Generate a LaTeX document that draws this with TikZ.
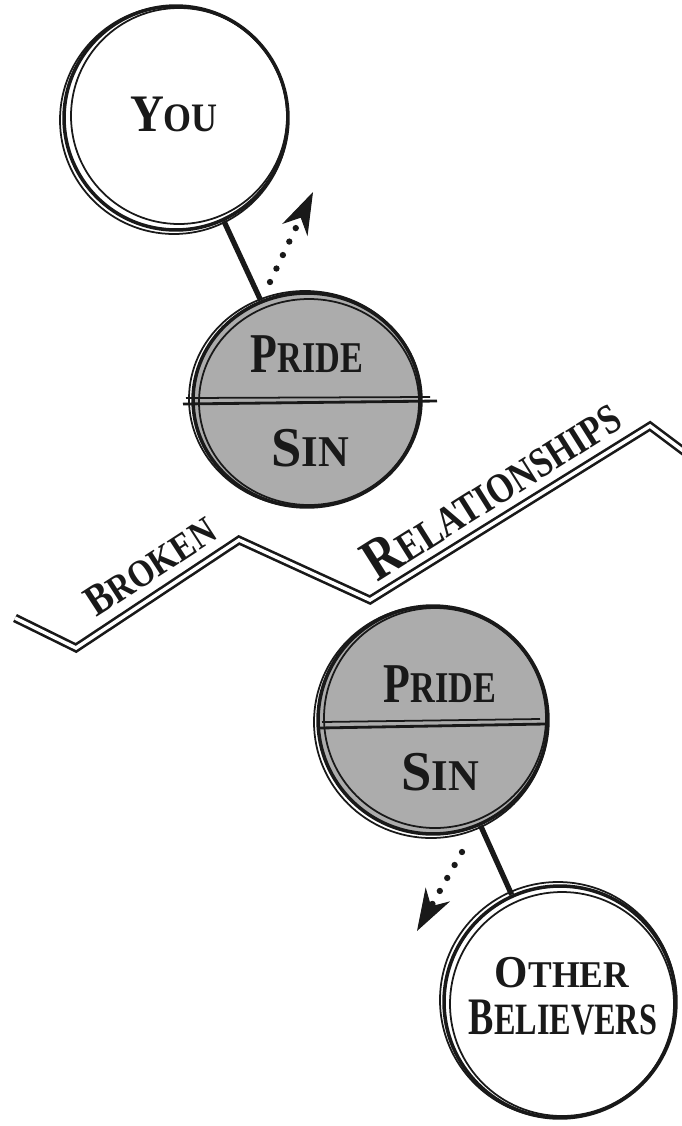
\documentclass[tikz,border=0pt]{standalone}
\usepackage{graphicx}
\usepackage{fontspec}
\setmainfont{Liberation Serif}
\usetikzlibrary{shapes.geometric,arrows.meta}
\definecolor{pgray}{RGB}{172,172,172}
\definecolor{ink}{RGB}{25,25,25}
\newcommand{\HW}[5]{\scalebox{#5}[1]{\bfseries\fontsize{#3}{#3}\selectfont #1\fontsize{#4}{#4}\selectfont #2}}
\tikzset{
  ring/.style={draw=ink, line width=2pt, inner sep=0pt},
  sk/.style={draw=ink, line width=1pt},
  lbl/.style={text=ink, inner sep=0pt},
  conn/.style={draw=ink, line width=3pt},
  dotarrow/.style={draw=ink, line width=3.6pt, line cap=round, dash pattern=on 0pt off 8.5pt,
    -{Stealth[length=24pt,width=16pt,line width=0.6pt]}},
  divider/.style={draw=ink, line width=1.6pt},
  zig/.style={draw=ink, line width=1.5pt, double=white, double distance=2pt, line join=miter},
}
\begin{document}
\begin{tikzpicture}[x=0.02cm, y=-0.02cm]
\useasboundingbox (0,0) rectangle (682,1126);
% nodes
\node[ring, circle, minimum size=4.48cm] (you) at (176,118) {};
\node[ring, ellipse, fill=pgray, minimum width=4.56cm, minimum height=4.28cm] (pride1) at (307,400) {};
\node[ring, ellipse, fill=pgray, minimum width=4.6cm, minimum height=4.56cm] (pride2) at (433,720) {};
\node[ring, circle, minimum size=4.64cm] (ob) at (560,1002) {};
% sketch strokes
\draw[sk] ([shift={(3,-2)}]you.center) circle[radius=108];
\draw[sk] ([shift={(-2,2)}]you.center) circle[radius=114];
\draw[sk] ([shift={(2,2)}]pride1.center) ellipse[x radius=110, y radius=103];
\draw[sk] ([shift={(-2,-1)}]pride1.center) ellipse[x radius=116, y radius=108];
\draw[sk] ([shift={(2,-2)}]pride2.center) ellipse[x radius=111, y radius=110];
\draw[sk] ([shift={(-2,2)}]pride2.center) ellipse[x radius=117, y radius=116];
\draw[sk] ([shift={(2,2)}]ob.center) circle[radius=112];
\draw[sk] ([shift={(-2,-2)}]ob.center) circle[radius=118];
% dividers
\coordinate (d1a) at (183,404); \coordinate (d1b) at (437,401);
\coordinate (d1c) at (186,398); \coordinate (d1d) at (430,397);
\draw[divider] (d1a) -- (d1b);
\draw[sk] (d1c) -- (d1d);
\coordinate (d2a) at (320,728); \coordinate (d2b) at (545,724);
\coordinate (d2c) at (322,722); \coordinate (d2d) at (540,719);
\draw[divider] (d2a) -- (d2b);
\draw[sk] (d2c) -- (d2d);
% labels
\node[lbl] (youtxt) at (174,114) {\HW{Y}{OU}{30}{23}{0.89}};
\node[lbl] (p1t) at (307,354) {\HW{P}{RIDE}{32}{25}{0.78}};
\node[lbl] (s1t) at (310,448) {\HW{S}{IN}{32}{25}{0.97}};
\node[lbl] (p2t) at (440,684) {\HW{P}{RIDE}{32}{25}{0.78}};
\node[lbl] (s2t) at (440,772) {\HW{S}{IN}{32}{25}{0.97}};
\node[lbl] (obt1) at (562,973) {\HW{O}{THER}{26}{21.5}{0.94}};
\node[lbl] (obt2) at (563,1018) {\HW{B}{ELIEVERS}{30}{25.5}{0.72}};
% connectors
\draw[conn] (you) -- (pride1);
\draw[conn] (pride2) -- (ob);
\coordinate (a1s) at (270,282); \coordinate (a1e) at (313,192);
\draw[dotarrow] (a1s) -- (a1e);
\coordinate (a2s) at (462,852); \coordinate (a2e) at (417,931);
\draw[dotarrow] (a2s) -- (a2e);
% zigzag
\coordinate (z1) at (15,618);
\coordinate (z2) at (76,648);
\coordinate (z3) at (239,540);
\coordinate (z4) at (370,600);
\coordinate (z5) at (650,426);
\coordinate (z6) at (690,456);
\draw[zig] (z1) -- (z2) -- (z3) -- (z4) -- (z5) -- (z6);
\node[lbl, rotate=33] (broken) at (150,566) {\HW{B}{ROKEN}{25}{22}{0.86}};
\node[lbl, rotate=32.2] (rel) at (491,488) {\HW{R}{ELATIONSHIPS}{34}{24}{0.82}};
\end{tikzpicture}
\end{document}
